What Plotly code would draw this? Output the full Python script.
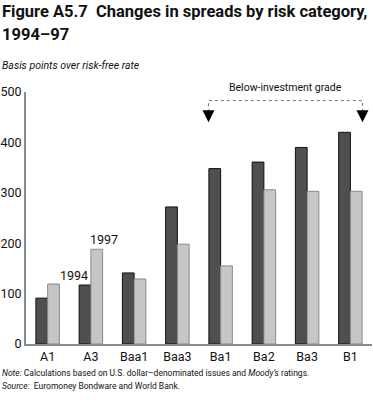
import plotly.graph_objects as go

categories = ["A1", "A3", "Baa1", "Baa3", "Ba1", "Ba2", "Ba3", "B1"]
spread_1994 = [91, 117, 141, 272, 348, 361, 390, 420]
spread_1997 = [119, 188, 129, 198, 155, 306, 303, 303]
y_ticks = [0, 100, 200, 300, 400, 500]

FONT = "Roboto, Liberation Sans, sans-serif"

fig = go.Figure()
fig.add_trace(go.Bar(x=categories, y=spread_1994, name="1994",
                     marker=dict(color="#4f4f4f", line=dict(color="#111111", width=1))))
fig.add_trace(go.Bar(x=categories, y=spread_1997, name="1997",
                     marker=dict(color="#c6c6c6", line=dict(color="#8a8a8a", width=1))))

W, H = 373, 409
ml, mr, mt, mb = 26, 1, 92, 65
ph = H - mt - mb
pw = W - ml - mr

def py(px):
    return (H - mb - px) / ph

X0 = -ml / pw

fig.update_layout(
    width=W, height=H,
    margin=dict(l=ml, r=mr, t=mt, b=mb),
    paper_bgcolor="white", plot_bgcolor="white",
    showlegend=False,
    barmode="group", bargap=0.457, bargroupgap=0,
    font=dict(family=FONT, color="#111111", size=12),
    xaxis=dict(showline=True, linecolor="#8a8a8a", linewidth=2, ticks="", showgrid=False,
               tickfont=dict(size=12.5), range=[-0.5, 7.5], automargin=False),
    yaxis=dict(range=[0, 500], tickvals=y_ticks, showline=True, linecolor="#8a8a8a", linewidth=2,
               showgrid=False, zeroline=False, ticks="", tickfont=dict(size=12.5), automargin=False),
)

ann = []
ann.append(dict(text="<b>Figure A5.7  Changes in spreads by risk category,</b>", xref="paper", yref="paper",
                x=X0, y=py(0), xanchor="left", yanchor="top", showarrow=False,
                font=dict(size=16.5, family=FONT)))
ann.append(dict(text="<b>1994–97</b>", xref="paper", yref="paper",
                x=X0, y=py(23), xanchor="left", yanchor="top", showarrow=False,
                font=dict(size=16.5, family=FONT)))
ann.append(dict(text="<i>Basis points over risk-free rate</i>", xref="paper", yref="paper",
                x=X0, y=py(66), xanchor="left", yanchor="middle", showarrow=False,
                font=dict(size=10.5, family=FONT)))
ann.append(dict(text="<i>Note:</i> Calculations based on U.S. dollar–denominated issues and <i>Moody’s</i> ratings.",
                xref="paper", yref="paper", x=X0, y=py(373), xanchor="left", yanchor="middle",
                showarrow=False, font=dict(size=8.5, family=FONT)))
ann.append(dict(text="<i>Source:</i>  Euromoney Bondware and World Bank.",
                xref="paper", yref="paper", x=X0, y=py(386), xanchor="left", yanchor="middle",
                showarrow=False, font=dict(size=8.5, family=FONT)))
# series labels
ann.append(dict(text="1994", x=1, y=spread_1994[1], xref="x", yref="y", xshift=-17, yanchor="bottom",
                xanchor="center", showarrow=False, font=dict(size=12.5, family=FONT)))
ann.append(dict(text="1997", x=1, y=spread_1997[1], xref="x", yref="y", xshift=13, yanchor="bottom",
                xanchor="center", showarrow=False, font=dict(size=12.5, family=FONT)))
# bracket
xl, xr, ytop, ytip = 3.72, 7.28, 483, 448
fig.add_shape(type="path", xref="x", yref="y",
              path=f"M {xl},{ytip} L {xl},{ytop} L {xr},{ytop} L {xr},{ytip}",
              line=dict(color="#777777", width=1, dash="dot"))
for xa in (xl, xr):
    ann.append(dict(text="", x=xa, y=440, xref="x", yref="y", ax=0, ay=-12, showarrow=True,
                    arrowhead=2, arrowsize=1.6, arrowwidth=1.5, arrowcolor="#000000"))
ann.append(dict(text="Below-investment grade", x=(xl + xr) / 2, y=py(87), xref="x", yref="paper",
                showarrow=False, yanchor="middle", font=dict(size=10.5, family=FONT)))
fig.update_layout(annotations=ann)

fig.write_html("out.html", config={"displayModeBar": False},
               post_script="document.body.style.margin='0';")
